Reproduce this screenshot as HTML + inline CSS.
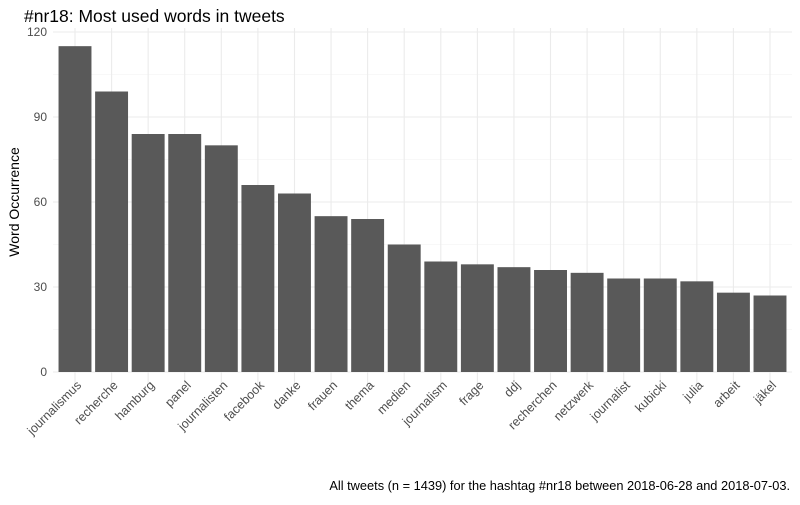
<!DOCTYPE html>
<html><head><meta charset="utf-8"><style>
body{margin:0;background:#fff;font-family:"Liberation Sans",sans-serif}
svg text{font-family:"Liberation Sans",sans-serif}
</style></head><body>
<svg id="chart" width="800" height="500">
<text x="24" y="22" font-size="17.5" fill="#000">#nr18: Most used words in tweets</text>
<text transform="translate(19,202) rotate(-90)" text-anchor="middle" font-size="14" fill="#000">Word Occurrence</text>
<text x="790" y="490" text-anchor="end" font-size="12.8" fill="#000">All tweets (n = 1439) for the hashtag #nr18 between 2018-06-28 and 2018-07-03.</text>
<g id="grid"></g><g id="bars"></g><g id="labels"></g>
</svg>
<script>
const categories=["journalismus","recherche","hamburg","panel","journalisten","facebook","danke","frauen","thema","medien","journalism","frage","ddj","recherchen","netzwerk","journalist","kubicki","julia","arbeit","jäkel"];
const values=[115,99,84,84,80,66,63,55,54,45,39,38,37,36,35,33,33,32,28,27];
const yTicks=[0,30,60,90,120];
const NS="http://www.w3.org/2000/svg";
const pl=53,pr=792,pt=28,pb=384;
const y0=372,y120=32;
function y(v){return y0-(v/120)*(y0-y120);}
const band=(770-75)/(categories.length-1);
function x(i){return 75+band*i;}
function mk(t,a,p){const e=document.createElementNS(NS,t);for(const k in a)e.setAttribute(k,a[k]);p.appendChild(e);return e;}
const g=document.getElementById('grid'),b=document.getElementById('bars'),l=document.getElementById('labels');
for(let k=0;k<yTicks.length-1;k++){const v=(yTicks[k]+yTicks[k+1])/2;
const ln=mk('line',{x1:pl,x2:pr,y1:y(v),y2:y(v),stroke:'#f2f2f2','stroke-width':0.6},g);

}
yTicks.forEach(v=>{
const ln=mk('line',{x1:pl,x2:pr,y1:y(v),y2:y(v),stroke:'#ebebeb','stroke-width':1.1},g);


const t=mk('text',{x:47,y:y(v)+4,'text-anchor':'end','font-size':12,fill:'#4d4d4d'},g);
t.textContent=v;


});
categories.forEach((c,i)=>{
const cx=x(i);
const ln=mk('line',{x1:cx,x2:cx,y1:pt,y2:pb,stroke:'#ebebeb','stroke-width':1.1},g);


const w=band*0.9;
const r=mk('rect',{x:cx-w/2,y:y(values[i]),width:w,height:y0-y(values[i]),fill:'#595959'},b);


const t=mk('text',{transform:`translate(${cx+7},${y0+14}) rotate(-45)`,'text-anchor':'end','font-size':12.5,fill:'#4d4d4d'},l);
t.textContent=c;


});
</script>
</body></html>
